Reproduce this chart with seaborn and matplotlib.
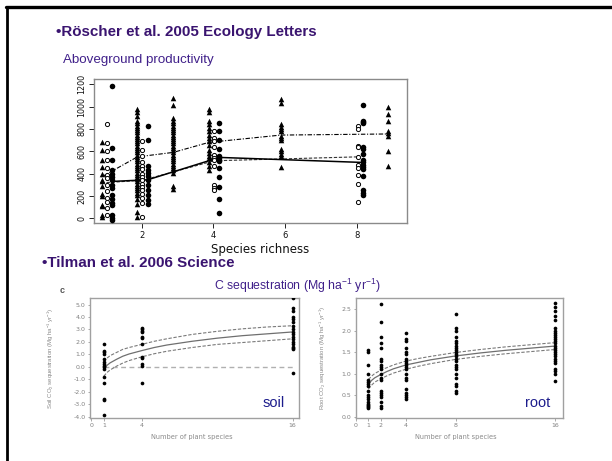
import matplotlib
matplotlib.use("Agg")
import matplotlib.pyplot as plt
import seaborn as sns
import pandas as pd
from matplotlib.lines import Line2D

sns.set_style("ticks")
plt.rcParams['font.family'] = ['Liberation Sans', 'DejaVu Sans']
plt.rcParams['mathtext.fontset'] = 'custom'
plt.rcParams['mathtext.rm'] = 'Liberation Sans'
plt.rcParams['mathtext.it'] = 'Liberation Sans'

# ---------------- Aboveground productivity (g m-2) by species richness ----------------
# triangles: richness 1, 2, 3, 4, 6, 9
tri_1 = [680, 610, 520, 460, 400, 345, 330, 290, 220, 200, 120, 110, 30, 10]
tri_2 = [975, 955, 915, 870, 850, 830, 810, 790, 770, 750, 730, 710, 690, 670, 650, 630,
         610, 590, 570, 550, 530, 510, 490, 470, 450, 430, 410, 390, 370, 350, 330, 310,
         290, 270, 250, 230, 210, 170, 130, 60, 10]
tri_3 = [1075, 1015, 900, 870, 850, 830, 810, 790, 770, 750, 730, 710, 690, 670, 650, 630,
         610, 590, 570, 550, 530, 510, 490, 470, 450, 430, 410, 290, 260]
tri_4 = [980, 950, 870, 840, 810, 780, 745, 720, 690, 660, 615, 585, 560, 540, 500, 470, 430]
tri_6 = [1070, 1030, 840, 820, 800, 780, 740, 720, 700, 620, 600, 580, 560, 455]
tri_9 = [1000, 930, 870, 780, 760, 740, 600, 470]
# open circles: richness 1, 2, 4, 8
open_1 = [840, 670, 600, 520, 450, 390, 360, 300, 240, 180, 150, 90, 30]
open_2 = [690, 610, 560, 500, 470, 440, 400, 370, 340, 310, 280, 250, 220, 180, 140, 10]
open_4 = [780, 720, 690, 640, 570, 540, 520, 470, 300, 270, 250]
open_8 = [830, 800, 650, 640, 550, 480, 450, 385, 310, 150]
# filled circles: richness 1, 2, 4, 8
fill_1 = [1185, 630, 520, 430, 400, 370, 340, 300, 270, 210, 170, 140, 120, 30, 0, -15]
fill_2 = [830, 700, 465, 435, 405, 375, 345, 300, 255, 210, 165, 125]
fill_4 = [850, 780, 700, 620, 560, 540, 525, 510, 450, 370, 280, 170, 50]
fill_8 = [1010, 870, 860, 850, 640, 620, 580, 520, 500, 480, 460, 440, 380, 250, 230, 210]

tri_levels = [1, 2, 3, 4, 6, 9]
circ_levels = [1, 2, 4, 8]
tri_means = [370, 550, 590, 680, 745, 755]
open_means = [320, 340, 515, 550]
fill_means = [330, 345, 545, 500]

# ---------------- Soil and root C sequestration (Mg ha-1 yr-1) ----------------
soil_rich = [1, 4, 16]
soil_1 = [1.8, 1.3, 1.2, 1.0, 0.6, 0.4, 0.2, 0.1, 0.0, -0.2, -0.8, -1.3, -2.6, -2.7, -3.9]
soil_4 = [3.1, 3.0, 2.9, 2.8, 2.4, 2.3, 1.8, 0.8, 0.7, 0.2, 0.1, -1.3]
soil_16 = [5.5, 4.7, 4.5, 4.0, 3.8, 3.6, 3.3, 3.0, 2.8, 2.6, 2.4, 2.2, 2.0, 1.8, 1.6,
           1.5, 1.4, -0.5]

root_rich = [1, 2, 4, 8, 16]
root_1 = [1.55, 1.5, 1.2, 1.0, 0.85, 0.8, 0.75, 0.7, 0.6, 0.5, 0.45, 0.4, 0.35, 0.3,
          0.28, 0.25, 0.22, 0.2]
root_2 = [2.62, 2.2, 1.85, 1.7, 1.6, 1.35, 1.3, 1.2, 1.15, 1.1, 1.0, 0.9, 0.85, 0.6,
          0.55, 0.5, 0.45, 0.35, 0.25, 0.2]
root_4 = [1.95, 1.8, 1.75, 1.6, 1.5, 1.45, 1.35, 1.3, 1.25, 1.2, 1.15, 1.1, 1.0, 0.9,
          0.85, 0.65, 0.55, 0.5, 0.45, 0.4]
root_8 = [2.38, 2.05, 2.0, 1.85, 1.75, 1.7, 1.65, 1.6, 1.55, 1.5, 1.45, 1.4, 1.35, 1.3,
          1.2, 1.15, 1.1, 1.0, 0.9, 0.75, 0.7, 0.6, 0.55]
root_16 = [2.65, 2.55, 2.45, 2.35, 2.25, 2.05, 2.0, 1.95, 1.9, 1.85, 1.8, 1.75, 1.7,
           1.65, 1.6, 1.55, 1.5, 1.45, 1.4, 1.35, 1.3, 1.25, 1.1, 1.05, 1.0, 0.83]

# fitted curves with confidence bands
fit_x = [1, 1.25, 1.5, 2, 2.5, 3, 4, 5, 6, 8, 10, 12, 14, 16]
soil_fit = [-0.15, 0.12, 0.32, 0.6, 0.85, 1.03, 1.3, 1.55, 1.75, 2.05, 2.3, 2.5, 2.65, 2.8]
soil_hi = [0.4, 0.7, 0.9, 1.15, 1.4, 1.55, 1.8, 2.05, 2.25, 2.6, 2.85, 3.05, 3.2, 3.3]
soil_lo = [-0.75, -0.45, -0.25, 0.05, 0.3, 0.5, 0.8, 1.05, 1.25, 1.55, 1.8, 1.95, 2.1, 2.25]
root_fit = [0.75, 0.84, 0.9, 0.98, 1.05, 1.11, 1.2, 1.26, 1.32, 1.41, 1.48, 1.54, 1.59, 1.64]
root_hi = [0.86, 0.94, 1.0, 1.08, 1.14, 1.2, 1.29, 1.35, 1.4, 1.49, 1.56, 1.62, 1.67, 1.72]
root_lo = [0.64, 0.73, 0.8, 0.88, 0.95, 1.01, 1.1, 1.17, 1.23, 1.33, 1.4, 1.46, 1.51, 1.56]

W, H = 612, 461
fig = plt.figure(figsize=(W / 100, H / 100), dpi=100)
fig.patch.set_facecolor('white')


def fx(px):
    return px / W


def fy(py):
    return 1 - py / H


def box(left, top, right, bottom):
    return [fx(left), fy(bottom), (right - left) / W, (bottom - top) / H]


def long_table(groups, levels):
    rows = []
    for lvl, vals in zip(levels, groups):
        rows += [(lvl, v) for v in vals]
    return pd.DataFrame(rows, columns=['richness', 'value'])


purple = '#3a1470'
navy = '#1c1c8c'

# slide frame
fig.add_artist(Line2D([fx(6), 1], [fy(7.5), fy(7.5)], color='black', lw=2.4,
                      transform=fig.transFigure))
fig.add_artist(Line2D([fx(7), fx(7)], [0, fy(7)], color='black', lw=2.0,
                      transform=fig.transFigure))

fig.text(fx(56), fy(32), '•Röscher et al. 2005 Ecology Letters', fontsize=10.9,
         fontweight='bold', color=purple, va='center', ha='left')
fig.text(fx(63), fy(60), 'Aboveground productivity', fontsize=9.6, color='#40208a',
         va='center', ha='left')
fig.text(fx(42), fy(263), '•Tilman et al. 2006 Science', fontsize=10.9,
         fontweight='bold', color=purple, va='center', ha='left')
fig.text(fx(297), fy(286), r'C sequestration (Mg ha$^{\mathregular{-1}}$ yr$^{\mathregular{-1}}$)',
         fontsize=8.8, color='#40208a', va='center', ha='center')

# ---------------- top panel ----------------
ax1 = fig.add_axes(box(94, 79, 407, 223))
tri_df = long_table([tri_1, tri_2, tri_3, tri_4, tri_6, tri_9], tri_levels)
open_df = long_table([open_1, open_2, open_4, open_8], circ_levels)
fill_df = long_table([fill_1, fill_2, fill_4, fill_8], circ_levels)
tri_df['x'] = tri_df['richness'] - 0.12
open_df['x'] = open_df['richness'] + 0.02
fill_df['x'] = fill_df['richness'] + 0.17

sns.lineplot(x=[l - 0.12 for l in tri_levels], y=tri_means, ax=ax1, color='black',
             lw=0.8, linestyle=(0, (4, 1.5, 1, 1.5)), zorder=3)
sns.lineplot(x=[l + 0.02 for l in circ_levels], y=open_means, ax=ax1, color='#333333',
             lw=0.8, linestyle=(0, (3, 1.5)), zorder=3)
sns.lineplot(x=[l + 0.17 for l in circ_levels], y=fill_means, ax=ax1, color='black',
             lw=1.1, linestyle='-', zorder=3)
sns.scatterplot(data=tri_df, x='x', y='value', ax=ax1, marker='^', s=16,
                color='black', linewidth=0, zorder=4)
sns.scatterplot(data=open_df, x='x', y='value', ax=ax1, marker='o', s=9,
                facecolor='white', edgecolor='black', linewidth=0.7, zorder=4)
sns.scatterplot(data=fill_df, x='x', y='value', ax=ax1, marker='o', s=16,
                color='black', linewidth=0, zorder=4)

ax1.set_xlim(0.67, 9.4)
ax1.set_ylim(-42, 1247)
ax1.set_xticks([2, 4, 6, 8])
ax1.set_yticks([0, 200, 400, 600, 800, 1000, 1200])
ax1.set_xticklabels(['2', '4', '6', '8'], fontsize=6, family='DejaVu Sans')
ax1.set_yticklabels(['0', '200', '400', '600', '800', '1000', '1200'], fontsize=5.8,
                    rotation=90, va='center', family='DejaVu Sans')
ax1.tick_params(length=3.5, width=0.7, color='#222222', pad=2, labelcolor='#111111')
for s in ax1.spines.values():
    s.set_color('#8a8a8a')
    s.set_linewidth(1.0)
ax1.set_xlabel('Species richness', fontsize=8.5, family='DejaVu Sans', color='#111111')
ax1.set_ylabel('')
ax1.xaxis.set_label_coords(0.53, -0.14)


# ---------------- bottom panels ----------------
def sequestration_panel(ax, levels, groups, fit, hi, lo, xlim, ylim, xticks, yticks,
                        ylabel, ylab_x):
    df = long_table(groups, levels)
    sns.scatterplot(data=df, x='richness', y='value', ax=ax, marker='o', s=7,
                    color='black', linewidth=0, zorder=4)
    sns.lineplot(x=fit_x, y=fit, ax=ax, color='#6f6f6f', lw=0.9, zorder=3)
    sns.lineplot(x=fit_x, y=hi, ax=ax, color='#7a7a7a', lw=0.8,
                 linestyle=(0, (3, 1.5)), zorder=3)
    sns.lineplot(x=fit_x, y=lo, ax=ax, color='#7a7a7a', lw=0.8,
                 linestyle=(0, (3, 1.5)), zorder=3)
    ax.set_xlim(*xlim)
    ax.set_ylim(*ylim)
    ax.set_xticks(xticks)
    ax.set_xticklabels([str(t) for t in xticks], fontsize=4.5, family='DejaVu Sans')
    ax.set_yticks(yticks)
    ax.set_yticklabels([f'{t:.1f}' for t in yticks], fontsize=4.5, family='DejaVu Sans')
    ax.tick_params(length=1.8, width=0.5, color='#888888', pad=1.5, labelcolor='#808080')
    for s in ax.spines.values():
        s.set_color('#a0a0a0')
        s.set_linewidth(1.0)
    ax.set_xlabel('Number of plant species', fontsize=4.8, family='DejaVu Sans',
                  color='#8a8a8a')
    ax.set_ylabel(ylabel, fontsize=4.3, color='#8a8a8a')
    ax.xaxis.set_label_coords(0.485, -0.13)
    ax.yaxis.set_label_coords(ylab_x, 0.5)


ax2 = fig.add_axes(box(90, 298.3, 299, 418.3))
sns.lineplot(x=[1, 16], y=[0, 0], ax=ax2, color='#b0b0b0', lw=1.0,
             linestyle=(0, (3.5, 2.5)), zorder=2)
sequestration_panel(ax2, soil_rich, [soil_1, soil_4, soil_16], soil_fit, soil_hi, soil_lo,
                    (-0.1, 16.5), (-4.13, 5.5), [0, 1, 4, 16],
                    [5, 4, 3, 2, 1, 0, -1, -2, -3, -4],
                    r'Soil CO$_2$ sequestration (Mg ha$^{-1}$ yr$^{-1}$)', -0.165)
ax2.text(0.88, 0.13, 'soil', transform=ax2.transAxes, fontsize=10.5, color=navy,
         ha='center', va='center')

ax3 = fig.add_axes(box(356, 298.3, 562.7, 418.3))
sequestration_panel(ax3, root_rich, [root_1, root_2, root_4, root_8, root_16], root_fit,
                    root_hi, root_lo, (0.05, 16.6), (-0.04, 2.75), [0, 1, 2, 4, 8, 16],
                    [0.0, 0.5, 1.0, 1.5, 2.0, 2.5],
                    r'Root CO$_2$ sequestration (Mg ha$^{-1}$ yr$^{-1}$)', -0.135)
ax3.text(0.88, 0.13, 'root', transform=ax3.transAxes, fontsize=10.5, color=navy,
         ha='center', va='center')

fig.text(fx(62.5), fy(290), 'c', fontsize=6.5, fontweight='bold', color='#555555',
         ha='center', va='center')

fig.savefig('out.png', dpi=100, facecolor='white')
